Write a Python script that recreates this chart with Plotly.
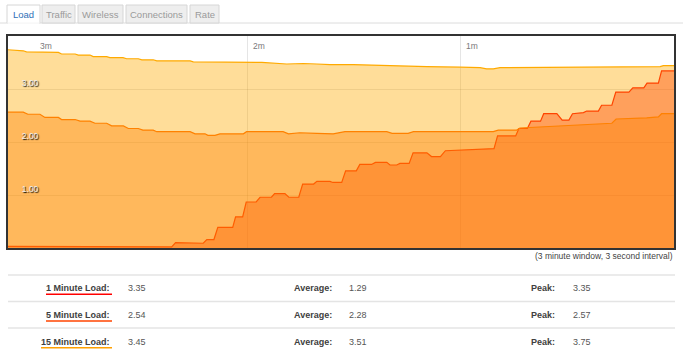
import plotly.graph_objects as go

# ---------------- data (time in seconds relative to now, load values) ----------------
t_1min = [-187.6, -175.8, -174.9, -141.5, -140.4, -135.9, -135.2, -132.6, -131.6, -129.6,
          -128.5, -124.3, -123.5, -121.5, -120.5, -117.7, -116.6, -113.4, -112.5, -109.6,
          -108.5, -105.7, -104.6, -101.5, -100.6, -96.9, -96.1, -93.6, -92.5, -89.5,
          -88.5, -85.2, -84.1, -80.9, -80.0, -78.1, -77.2, -74.6, -73.5, -69.6,
          -68.3, -65.8, -64.4, -57.5, -50.7, -49.7, -44.6, -43.7, -41.3, -40.3,
          -37.6, -36.7, -33.0, -31.5, -29.6, -28.6, -25.5, -24.6, -21.3, -20.4,
          -17.5, -16.4, -12.7, -11.6, -8.5, -7.6, -4.4, -3.5, 0.0]
load_1min = [0.03, 0.03, 0.02, 0.02, 0.10, 0.10, 0.09, 0.09, 0.16, 0.16,
             0.39, 0.39, 0.59, 0.59, 0.87, 0.87, 0.96, 0.96, 1.03, 1.03,
             0.96, 0.96, 1.21, 1.21, 1.26, 1.26, 1.24, 1.24, 1.46, 1.46,
             1.58, 1.58, 1.62, 1.62, 1.57, 1.57, 1.60, 1.60, 1.80, 1.80,
             1.73, 1.73, 1.84, 1.86, 1.88, 2.12, 2.12, 2.26, 2.26, 2.40,
             2.40, 2.54, 2.54, 2.42, 2.42, 2.54, 2.56, 2.59, 2.59, 2.70,
             2.70, 2.95, 2.95, 3.03, 3.03, 3.12, 3.12, 3.35, 3.35]

t_5min = [-187.6, -183.3, -182.0, -178.6, -177.2, -173.4, -172.5, -168.7, -167.3, -164.5,
          -163.1, -159.8, -158.4, -155.1, -153.7, -150.9, -149.6, -146.7, -145.7, -136.3,
          -134.9, -132.1, -131.3, -129.3, -127.9, -121.3, -120.4, -110.1, -108.6, -105.4,
          -100.6, -96.0, -92.7, -80.9, -79.4, -74.9, -73.4, -50.9, -49.5, -44.3,
          -43.4, -37.7, -30.2, -24.6, -20.8, -17.5, -16.3, -11.5, -7.7, -4.4,
          -3.5, 0.0]
load_5min = [2.57, 2.57, 2.53, 2.53, 2.47, 2.47, 2.43, 2.43, 2.40, 2.40,
             2.36, 2.36, 2.31, 2.31, 2.26, 2.26, 2.23, 2.23, 2.20, 2.20,
             2.16, 2.16, 2.13, 2.13, 2.16, 2.16, 2.20, 2.20, 2.16, 2.18,
             2.17, 2.16, 2.20, 2.20, 2.17, 2.17, 2.20, 2.20, 2.23, 2.23,
             2.27, 2.29, 2.31, 2.33, 2.34, 2.36, 2.44, 2.45, 2.46, 2.48,
             2.54, 2.54]

t_15min = [-187.6, -183.3, -182.4, -178.6, -177.7, -173.4, -172.5, -168.7, -167.8, -164.5,
           -163.6, -159.8, -158.9, -155.2, -154.2, -150.9, -149.9, -146.7, -145.7, -136.3,
           -135.4, -117.1, -116.1, -109.1, -104.4, -100.6, -96.9, -90.3, -84.7, -80.9,
           -69.6, -60.3, -54.6, -52.8, -50.9, -49.0, -12.4, -11.5, -3.9, -3.0,
           0.0]
load_15min = [3.75, 3.73, 3.71, 3.71, 3.70, 3.70, 3.67, 3.67, 3.65, 3.65,
              3.62, 3.62, 3.60, 3.60, 3.58, 3.58, 3.56, 3.56, 3.54, 3.54,
              3.52, 3.52, 3.51, 3.48, 3.49, 3.48, 3.47, 3.47, 3.46, 3.44,
              3.43, 3.42, 3.41, 3.39, 3.39, 3.41, 3.42, 3.43, 3.43, 3.45,
              3.45]

x_tick_vals = [-180, -120, -60]
x_tick_text = ["3m", "2m", "1m"]
y_tick_vals = [1, 2, 3]
y_tick_text = ["1.00", "2.00", "3.00"]

tab_names = ["Load", "Traffic", "Wireless", "Connections", "Rate"]
row_labels = ["1 Minute Load:", "5 Minute Load:", "15 Minute Load:"]
current_vals = ["3.35", "2.54", "3.45"]
average_vals = ["1.29", "2.28", "3.51"]
peak_vals = ["3.35", "2.57", "3.75"]
caption = "(3 minute window, 3 second interval)"

# ---------------- figure ----------------
W, H = 690, 359
PL, PR, PT, PB = 8, 674, 36, 248
FONT = "Liberation Sans, Arial, sans-serif"


def fx(px):
    return (px - PL) / (PR - PL)


def fy(py):
    return (PB - py) / (PB - PT)


fig = go.Figure()
series = [
    ("1 Minute Load", t_1min, load_1min, "#ff0000", "rgba(255,0,0,0.4)"),
    ("5 Minute Load", t_5min, load_5min, "#ff6600", "rgba(255,102,0,0.4)"),
    ("15 Minute Load", t_15min, load_15min, "#ffaa00", "rgba(255,170,0,0.4)"),
]
for name, tx, vy, lc, fc in series:
    fig.add_trace(go.Scatter(x=tx, y=vy, mode="lines", fill="tozeroy", name=name,
                             line=dict(color=lc, width=1.2), fillcolor=fc,
                             showlegend=False, hoverinfo="skip"))

shapes = []
annotations = []

# x-axis time labels, drawn inside the plot at the top, right of each grid line
for xv, xt in zip(x_tick_vals, x_tick_text):
    annotations.append(dict(xref="x", yref="paper", x=xv, y=1, text=xt, showarrow=False,
                            xanchor="left", yanchor="top", xshift=3, yshift=-3,
                            font=dict(family=FONT, size=8.5, color="#7a7a7a")))

# tabs
tab_x = [(7, 40), (42, 75), (78, 123), (126, 187), (190, 219)]
TAB_TOP, TAB_BOT = 5, 23
shapes.append(dict(type="line", xref="paper", yref="paper", x0=fx(0), x1=fx(683),
                   y0=fy(TAB_BOT), y1=fy(TAB_BOT), line=dict(color="#dcdcdc", width=1), layer="above"))
for i, (name, (a, b)) in enumerate(zip(tab_names, tab_x)):
    active = i == 0
    shapes.append(dict(type="rect", xref="paper", yref="paper", x0=fx(a), x1=fx(b),
                       y0=fy(TAB_BOT), y1=fy(TAB_TOP),
                       fillcolor="#ffffff" if active else "#eeeeee",
                       line=dict(color="#d6d6d6", width=1), layer="above"))
    if active:
        shapes.append(dict(type="line", xref="paper", yref="paper", x0=fx(a + 0.5), x1=fx(b - 0.5),
                           y0=fy(TAB_BOT), y1=fy(TAB_BOT), line=dict(color="#ffffff", width=1.5),
                           layer="above"))
    annotations.append(dict(xref="paper", yref="paper", x=fx((a + b) / 2), y=fy(15),
                            text=name, showarrow=False, xanchor="center", yanchor="middle",
                            font=dict(family=FONT, size=9.5,
                                      color="#2f6fb7" if active else "#9a9a9a")))

# caption
annotations.append(dict(xref="paper", yref="paper", x=fx(675), y=fy(255.5), text=caption,
                        showarrow=False, xanchor="right", yanchor="middle",
                        font=dict(family=FONT, size=8.5, color="#444444")))

# stats table
sep_y = [275, 301.5, 328]
for sy in sep_y:
    shapes.append(dict(type="line", xref="paper", yref="paper", x0=fx(8), x1=fx(675),
                       y0=fy(sy), y1=fy(sy), line=dict(color="#e4e4e4", width=1.5)))
row_y = [288.3, 315, 341.7]
underline_start = [46, 46, 41]
underline_color = ["#ff0000", "#ff4400", "#ffa000"]
for i in range(3):
    ry = row_y[i]
    annotations.append(dict(xref="paper", yref="paper", x=fx(112), y=fy(ry), text="<b>%s</b>" % row_labels[i],
                            showarrow=False, xanchor="right", yanchor="middle",
                            font=dict(family=FONT, size=9, color="#404040")))
    shapes.append(dict(type="line", xref="paper", yref="paper", x0=fx(underline_start[i]), x1=fx(112),
                       y0=fy(ry + 6), y1=fy(ry + 6), line=dict(color=underline_color[i], width=1.6)))
    annotations.append(dict(xref="paper", yref="paper", x=fx(125.5), y=fy(ry), text=current_vals[i],
                            showarrow=False, xanchor="left", yanchor="middle",
                            font=dict(family=FONT, size=9, color="#555555")))
    annotations.append(dict(xref="paper", yref="paper", x=fx(333.5), y=fy(ry), text="<b>Average:</b>",
                            showarrow=False, xanchor="right", yanchor="middle",
                            font=dict(family=FONT, size=9, color="#404040")))
    annotations.append(dict(xref="paper", yref="paper", x=fx(347), y=fy(ry), text=average_vals[i],
                            showarrow=False, xanchor="left", yanchor="middle",
                            font=dict(family=FONT, size=9, color="#555555")))
    annotations.append(dict(xref="paper", yref="paper", x=fx(557), y=fy(ry), text="<b>Peak:</b>",
                            showarrow=False, xanchor="right", yanchor="middle",
                            font=dict(family=FONT, size=9, color="#404040")))
    annotations.append(dict(xref="paper", yref="paper", x=fx(570.5), y=fy(ry), text=peak_vals[i],
                            showarrow=False, xanchor="left", yanchor="middle",
                            font=dict(family=FONT, size=9, color="#555555")))

fig.update_layout(
    width=W, height=H, autosize=False,
    margin=dict(l=PL, r=W - PR, t=PT, b=H - PB, pad=0),
    paper_bgcolor="#ffffff", plot_bgcolor="#ffffff",
    font=dict(family=FONT),
    showlegend=False,
    shapes=shapes, annotations=annotations,
    xaxis=dict(range=[-187.6, 0], tickvals=x_tick_vals, ticktext=x_tick_text,
               showticklabels=False, ticks="",
               showgrid=True, gridcolor="rgba(0,0,0,0.1)", gridwidth=1,
               zeroline=False, showline=True, mirror=True, linecolor="#333333", linewidth=1.5,
               fixedrange=True),
    yaxis=dict(range=[0, 4.01], tickvals=y_tick_vals, ticktext=y_tick_text,
               ticklabelposition="inside top", ticks="", ticklabelstandoff=12,
               tickfont=dict(family=FONT, size=8.5, color="#eeeeee", shadow="1px 1px 1px #000"),
               showgrid=True, gridcolor="rgba(0,0,0,0.1)", gridwidth=1,
               zeroline=False, showline=True, mirror=True, linecolor="#333333", linewidth=1.5,
               fixedrange=True),
)

fig.write_html("out.html", config={"displayModeBar": False},
               post_script="document.body.style.margin='0';document.body.style.overflow='hidden';")
